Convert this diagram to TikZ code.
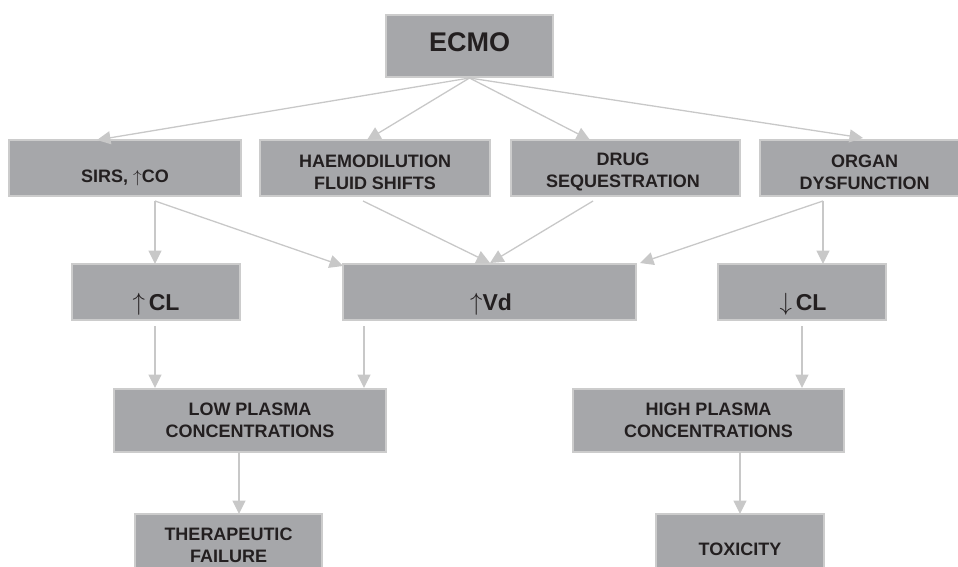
\documentclass[tikz,border=0pt]{standalone}
\usepackage{fontspec}
\setmainfont{Liberation Sans}
\usetikzlibrary{arrows.meta}
\definecolor{boxgray}{HTML}{A6A7AA}
\definecolor{bordergray}{HTML}{CCCCCC}
\definecolor{arrowgray}{HTML}{C8C8C8}
\definecolor{txt}{HTML}{231F20}
\begin{document}
\begin{tikzpicture}[x=1pt,y=-1pt,
  box/.style={draw=bordergray, fill=boxgray, line width=1.3pt, inner sep=0pt, outer sep=0pt},
  lbl/.style={text=txt, font=\fontsize{18}{22}\selectfont\bfseries, align=center, inner sep=0pt},
  biglbl/.style={text=txt, font=\fontsize{23}{27}\selectfont\bfseries, inner sep=0pt, anchor=base},
  arr/.style={draw=arrowgray, line width=1.3pt, -{Triangle[length=13.5pt,width=13pt]}}]
\useasboundingbox (0,0) rectangle (958,567);
\clip (0,0) rectangle (958,567);
% boxes
\node[box, minimum width=167pt, minimum height=62pt] (ecmo) at (469.5,46) {};
\node[box, minimum width=232pt, minimum height=56pt] (sirs) at (125,168) {};
\node[box, minimum width=230pt, minimum height=56pt] (haemo) at (375,168) {};
\node[box, minimum width=229pt, minimum height=56pt] (drug) at (625.5,168) {};
\node[box, minimum width=210pt, minimum height=56pt] (organ) at (865,168) {};
\node[box, minimum width=168pt, minimum height=56pt] (upcl) at (156,292) {};
\node[box, minimum width=293pt, minimum height=56pt] (vd) at (489.5,292) {};
\node[box, minimum width=168pt, minimum height=56pt] (downcl) at (802,292) {};
\node[box, minimum width=272pt, minimum height=63pt] (low) at (250,420.5) {};
\node[box, minimum width=271pt, minimum height=63pt] (high) at (708.5,420.5) {};
\node[box, minimum width=187pt, minimum height=66pt] (thera) at (228.5,547) {};
\node[box, minimum width=168pt, minimum height=66pt] (tox) at (740,547) {};
% texts
\node[text=txt, font=\fontsize{27}{32}\selectfont\bfseries, inner sep=0pt] (tecmo) at (469.5,42) {ECMO};
\node[lbl, anchor=base] (tsirs) at (125,182) {SIRS, $\uparrow$CO};
\node[lbl] (thaemo) at (375,172) {HAEMODILUTION\\FLUID SHIFTS};
\node[lbl] (tdrug) at (623,172) {DRUG\\SEQUESTRATION};
\node[lbl] (torgan) at (864.5,172) {ORGAN\\DYSFUNCTION};
\node[biglbl] (tupcl) at (156,310) {$\uparrow$\,CL};
\node[biglbl] (tvd) at (491,310) {$\uparrow$Vd};
\node[biglbl] (tdowncl) at (803,310) {$\downarrow$\,CL};
\node[lbl] (tlow) at (250,420) {LOW PLASMA\\CONCENTRATIONS};
\node[lbl] (thigh) at (708.5,420) {HIGH PLASMA\\CONCENTRATIONS};
\node[lbl] (tthera) at (228.5,545.5) {THERAPEUTIC\\FAILURE};
\node[lbl, anchor=base] (ttox) at (740,555) {TOXICITY};
% connector coordinates
\coordinate (e0) at (469.5,78);
\coordinate (sirsin) at (97,140);
\coordinate (haemoin) at (367,140);
\coordinate (drugin) at (590,140);
\coordinate (organin) at (863,138);
\coordinate (sirsout) at (155,201);
\coordinate (upclin) at (155,264);
\coordinate (vdinl) at (343,266);
\coordinate (haemoout) at (363,201);
\coordinate (drugout) at (593,201);
\coordinate (vdinc) at (490,263);
\coordinate (organout) at (823,201);
\coordinate (vdinr) at (640,263);
\coordinate (downclin) at (823,264);
\coordinate (upclout) at (155,326);
\coordinate (lowinl) at (155,388);
\coordinate (vdout) at (364,326);
\coordinate (lowinr) at (364,388);
\coordinate (downclout) at (802,326);
\coordinate (highin) at (802,388);
\coordinate (lowout) at (239,452);
\coordinate (therain) at (239,514);
\coordinate (highout) at (740,452);
\coordinate (toxin) at (740,514);
% connectors
\draw[arr] (e0) -- (sirsin);
\draw[arr] (e0) -- (haemoin);
\draw[arr] (e0) -- (drugin);
\draw[arr] (e0) -- (organin);
\draw[arr] (sirsout) -- (upclin);
\draw[arr] (sirsout) -- (vdinl);
\draw[arr] (haemoout) -- (vdinc);
\draw[arr] (drugout) -- (vdinc);
\draw[arr] (organout) -- (vdinr);
\draw[arr] (organout) -- (downclin);
\draw[arr] (upclout) -- (lowinl);
\draw[arr] (vdout) -- (lowinr);
\draw[arr] (downclout) -- (highin);
\draw[arr] (lowout) -- (therain);
\draw[arr] (highout) -- (toxin);
\end{tikzpicture}
\end{document}
